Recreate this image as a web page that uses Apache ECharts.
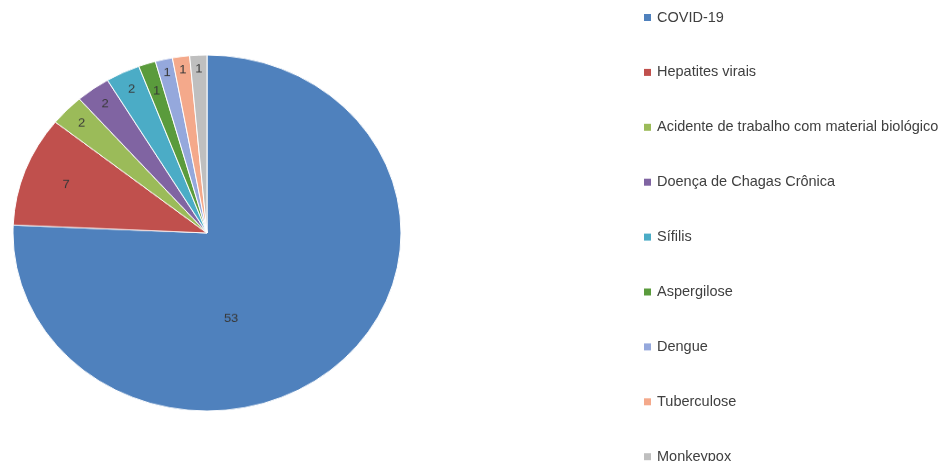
<!DOCTYPE html>
<html><head><meta charset="utf-8">
<script src="https://cdn.jsdelivr.net/npm/echarts@6/dist/echarts.min.js"></script>
<style>
html,body{margin:0;padding:0;background:#fff;width:945px;height:461px;overflow:hidden;position:relative}
#pie{position:absolute;left:0;top:26px;width:414px;height:414px;transform:scaleY(0.9175);transform-origin:50% 50%}
#leg{position:absolute;left:0;top:0;width:945px;height:560px}
</style></head>
<body>
<div id="leg"></div>
<div id="pie"></div>
<script>
const categories = ["COVID-19","Hepatites virais","Acidente de trabalho com material biológico","Doença de Chagas Crônica","Sífilis","Aspergilose","Dengue","Tuberculose","Monkeypox"];
const values = [53,7,2,2,2,1,1,1,1];
const colors = ["#4F81BD","#C0504D","#9BBB59","#8064A2","#4BACC6","#5A9B3C","#95A8DC","#F4A98B","#BFBFBF"];
// which label ring each value label sits on
const labelRing = [0,1,2,2,2,3,4,4,4];

const font = "'Liberation Sans', Arial, sans-serif";
const labelStyle = {show:true, position:'inside', color:'#383838', fontSize:13, fontFamily:font, formatter:'{c}'};
const ringRadius = [[0,194],[101,194],[147,194],[126,194],[158,194]];

function seriesFor(ring, visible){
  return {
    type:'pie', radius:ringRadius[ring], center:['50%','50%'], startAngle:90, clockwise:true,
    animation:false, silent:true, avoidLabelOverlap:false,
    labelLine:{show:false},
    data: categories.map((n,i)=>({
      name:n, value:values[i],
      itemStyle: visible ? {color:colors[i], borderColor:'#ffffff', borderWidth:1}
                         : {color:'rgba(0,0,0,0)', borderWidth:0},
      label: Object.assign({}, labelStyle, {show: labelRing[i]===ring},
                           ring===0 ? {offset:[-45,21]} : {})
    }))
  };
}

const pie = echarts.init(document.getElementById('pie'), null, {renderer:'canvas'});
pie.setOption({
  animation:false,
  series:[0,1,2,3,4].map(r=>seriesFor(r, r===0))
});

const leg = echarts.init(document.getElementById('leg'), null, {renderer:'canvas'});
leg.setOption({
  animation:false,
  color: colors,
  legend:{
    orient:'vertical', left:644, top:10, padding:0,
    icon:'rect', itemWidth:7, itemHeight:7, itemGap:39.9,
    textStyle:{color:'#404040', fontSize:14.5, fontFamily:font, lineHeight:14, padding:[0,0,0,1]},
    selectedMode:false,
    data: categories
  },
  series:[{
    type:'pie', center:[-500,-500], radius:5, silent:true, label:{show:false},
    data: categories.map((n,i)=>({name:n, value:values[i]}))
  }]
});
</script>
</body></html>
